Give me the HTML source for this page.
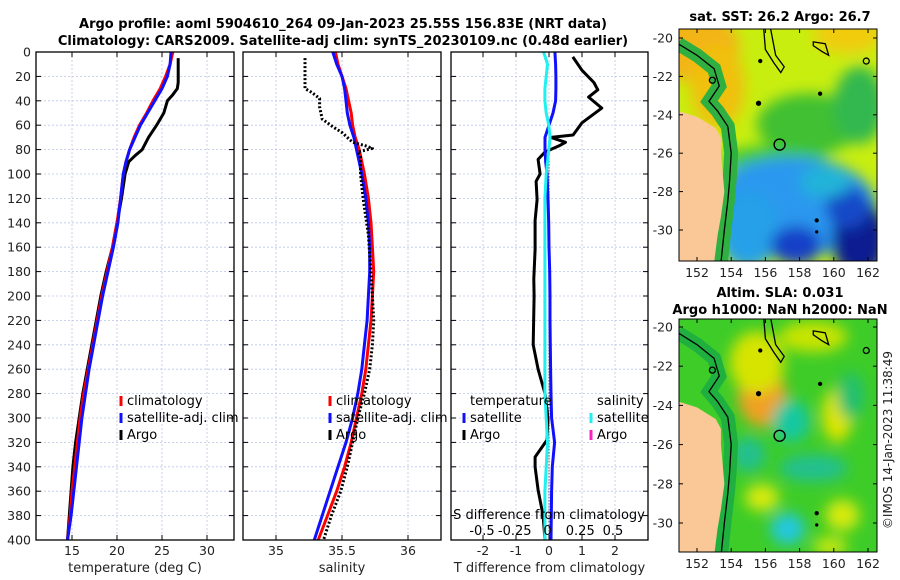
<!DOCTYPE html>
<html><head><meta charset="utf-8">
<style>
html,body{margin:0;padding:0;background:#fff;}
svg{display:block;font-family:"DejaVu Sans","Liberation Sans",sans-serif;}
</style></head>
<body>
<svg id="fig" width="900" height="580" viewBox="0 0 900 580" xmlns="http://www.w3.org/2000/svg">
<defs>
<filter id="bl" x="-50%" y="-50%" width="200%" height="200%"><feGaussianBlur stdDeviation="7"/></filter>
<filter id="bl2" x="-50%" y="-50%" width="200%" height="200%"><feGaussianBlur stdDeviation="4"/></filter>
<clipPath id="clipTop"><rect x="679" y="29" width="198" height="232"/></clipPath>
<clipPath id="clipBot"><rect x="679" y="319" width="198" height="233"/></clipPath>
</defs>
<text x="343" y="28" text-anchor="middle" font-size="13" font-weight="bold">Argo profile: aoml 5904610_264 09-Jan-2023 25.55S 156.83E (NRT data)</text>
<text x="343" y="45" text-anchor="middle" font-size="13" font-weight="bold">Climatology: CARS2009. Satellite-adj clim: synTS_20230109.nc (0.48d earlier)</text>
<g id="plots"></g>
<g id="maps"></g>
<text transform="translate(892,440) rotate(-90)" text-anchor="middle" font-size="12" fill="#222">©IMOS 14-Jan-2023 11:38:49</text>
</svg>
<script>
// ---------- data ----------
const depthTicks = [0,20,40,60,80,100,120,140,160,180,200,220,240,260,280,300,320,340,360,380,400];
const tTicks = [15,20,25,30];
const sTicks = [35,35.5,36];
const sTickLabels = ['35','35.5','36'];
const dTicks = [-2,-1,0,1,2];
const sdTicks = [-0.5,-0.25,0,0.25,0.5];
const sdTickLabels = ['-0.5','-0.25','0','0.25','0.5'];

const climDepth = [0,10,20,30,40,50,60,70,80,90,100,120,140,160,180,200,220,240,260,280,300,320,340,360,380,400];
const tClim =    [26.2,25.9,25.4,24.8,24.0,23.3,22.5,21.9,21.4,21.0,20.7,20.4,20.0,19.5,18.9,18.3,17.8,17.3,16.8,16.3,15.9,15.6,15.3,15.0,14.8,14.5];
const tSat =     [26.0,25.9,25.6,25.0,24.2,23.4,22.6,22.0,21.4,21.0,20.7,20.4,20.1,19.6,19.0,18.4,17.9,17.4,16.9,16.5,16.1,15.8,15.5,15.2,14.9,14.5];
const sClim =    [35.45,35.47,35.5,35.53,35.55,35.57,35.58,35.6,35.63,35.65,35.67,35.70,35.72,35.73,35.74,35.73,35.72,35.70,35.68,35.65,35.61,35.57,35.52,35.46,35.39,35.32];
const sSat =     [35.43,35.46,35.5,35.52,35.53,35.54,35.56,35.59,35.61,35.63,35.65,35.68,35.70,35.71,35.71,35.70,35.69,35.67,35.65,35.62,35.58,35.53,35.47,35.41,35.35,35.29];
const dtSat =    [0.18,0.2,0.21,0.21,0.2,0.12,0.0,-0.12,-0.12,-0.1,-0.06,-0.03,-0.01,0.0,0.02,0.03,0.03,0.04,0.05,0.06,0.08,0.17,0.1,0.08,0.07,0.06];
const dsSat =    [-0.03,0.0,-0.01,-0.02,-0.02,-0.01,0.01,0.02,0.01,0.0,-0.01,-0.02,-0.02,-0.02,-0.02,-0.02,-0.02,-0.02,-0.02,-0.02,-0.01,0.0,-0.01,-0.02,-0.02,-0.02];

const argoDepth = [5,15,25,30,35,40,50,60,70,80,85,90,100,110,120,140,160,180,200,220,240,260,280,300,320,340,360,380,400];
const tArgo =     [26.8,26.8,26.8,26.7,26.2,25.6,25.2,24.4,23.5,22.8,22.0,21.3,20.9,20.7,20.5,20.0,19.5,18.8,18.2,17.7,17.2,16.7,16.2,15.8,15.4,15.1,14.9,14.7,14.5];
const argoSDepth = [5,15,25,30,33,38,45,55,62,66,70,74,77,79,82,86,90,100,120,150,200,220,240,260,280,300,320,340,360,380,400];
const sArgo =      [35.22,35.22,35.22,35.22,35.27,35.33,35.33,35.35,35.44,35.5,35.54,35.58,35.68,35.73,35.62,35.64,35.64,35.64,35.66,35.70,35.73,35.74,35.73,35.71,35.67,35.62,35.58,35.54,35.49,35.42,35.36];
const dtDepth =  [4,15,25,31,37,46,58,68,70,74,77,82,88,100,106,121,138,162,186,200,240,260,280,300,318,332,340,359,380,400];
const dtArgo =   [0.72,1.0,1.36,1.48,1.2,1.6,1.0,0.73,0.06,0.5,0.3,-0.12,-0.33,-0.27,-0.39,-0.36,-0.42,-0.42,-0.46,-0.45,-0.48,-0.33,-0.12,-0.03,-0.06,-0.42,-0.42,-0.33,-0.18,-0.12];

// ---------- helpers ----------
const NS='http://www.w3.org/2000/svg';
function mk(tag, attrs, parent){const e=document.createElementNS(NS,tag);for(const k in attrs)e.setAttribute(k,attrs[k]);(parent||document.getElementById('plots')).appendChild(e);return e;}
const Y0=52, Y1=540;
const yD = d => Y0 + d*(Y1-Y0)/400;
function linScale(v0,p0,v1,p1){return v=>p0+(v-v0)*(p1-p0)/(v1-v0);}

const panels = [
 {name:'temperature', x0:36, x1:234, sx:linScale(15,72,30,207), ticks:tTicks, labels:tTicks.map(String), xlabel:'temperature (deg C)'},
 {name:'salinity', x0:243, x1:441, sx:linScale(35,276,36,408), ticks:sTicks, labels:sTickLabels, xlabel:'salinity'},
 {name:'difference', x0:451, x1:648, sx:linScale(-2,483,2,615), ticks:dTicks, labels:dTicks.map(String), xlabel:'T difference from climatology'}
];
const sdScale = linScale(-0.5,482,0.5,613);

panels.forEach((p,i)=>{
  const g = mk('g',{});
  
  
  // grid
  depthTicks.forEach(d=>{
    const l=mk('line',{x1:p.x0,x2:p.x1,y1:yD(d),y2:yD(d),stroke:'#b9c6ec','stroke-width':0.8,'stroke-dasharray':'2,2'},g);
    
    
    const t1=mk('line',{x1:p.x0,x2:p.x0+5,y1:yD(d),y2:yD(d),stroke:'#000'},g);
    const t2=mk('line',{x1:p.x1-5,x2:p.x1,y1:yD(d),y2:yD(d),stroke:'#000'},g);
    if(i===0){
      const tl=mk('text',{x:p.x0-5,y:yD(d)+4.5,'text-anchor':'end','font-size':12.5,fill:'#222'},g);
      tl.textContent=d;
      
      
    }
  });
  p.ticks.forEach((v,j)=>{
    const x=p.sx(v);
    const l=mk('line',{x1:x,x2:x,y1:Y0,y2:Y1,stroke:'#c9bfe0','stroke-width':0.8,'stroke-dasharray':'2,2'},g);
    
    
    mk('line',{x1:x,x2:x,y1:Y1,y2:Y1-5,stroke:'#000'},g);
    mk('line',{x1:x,x2:x,y1:Y0,y2:Y0+5,stroke:'#000'},g);
    const tl=mk('text',{x:x,y:555,'text-anchor':'middle','font-size':12.5,fill:'#222'},g);
    tl.textContent=p.labels[j];
    
    
  });
  const xl=mk('text',{x:(p.x0+p.x1)/2,y:572,'text-anchor':'middle','font-size':13,fill:'#222'},g);
  xl.textContent=p.xlabel;
  
  
});

function series(xs, ds, sx, color, w, name, dash){
  const pts = xs.map((v,k)=>sx(v).toFixed(1)+','+yD(ds[k]).toFixed(1)).join(' ');
  const a={points:pts,fill:'none',stroke:color,'stroke-width':w,'stroke-linejoin':'round'};
  if(dash) a['stroke-dasharray']=dash;
  const e=mk('polyline',a);
  
  
}
const P=panels;
series(tArgo, argoDepth, P[0].sx, '#000', 3, 'argo-temperature-line');
series(tClim, climDepth, P[0].sx, '#f00', 3, 'climatology-temperature-line');
series(tSat, climDepth, P[0].sx, '#1010ff', 3, 'satellite-temperature-line');
series(sClim, climDepth, P[1].sx, '#f00', 3, 'climatology-salinity-line');
series(sSat, climDepth, P[1].sx, '#1010ff', 3, 'satellite-salinity-line');
series(sArgo, argoSDepth, P[1].sx, '#000', 3, 'argo-salinity-line', '2,2');
// zero reference dotted
const z=mk('line',{x1:549,x2:549,y1:yD(70),y2:Y1,stroke:'#333','stroke-width':1.2,'stroke-dasharray':'1,2'});


series(dtArgo, dtDepth, P[2].sx, '#000', 3, 'argo-temperature-difference-line');
series(dtSat, climDepth, P[2].sx, '#1010ff', 3, 'satellite-temperature-difference-line');
series(dsSat, climDepth, sdScale, '#20f0f0', 3, 'satellite-salinity-difference-line');

// frames
panels.forEach(p=>{
  const r=mk('rect',{x:p.x0,y:Y0,width:p.x1-p.x0,height:Y1-Y0,fill:'none',stroke:'#000','stroke-width':1.3});
  
  
});

// legends
function legend(x,y,color,label,name){
  const g=mk('g',{});
  
  
  if(color) mk('line',{x1:x,x2:x,y1:y-9,y2:y+1,stroke:color,'stroke-width':3},g);
  const t=mk('text',{x:x+6,y:y,'font-size':13,fill:'#000'},g);
  t.textContent=label;
}
legend(121,405,'#f00','climatology','legend-entry-climatology');
legend(121,422,'#1010ff','satellite-adj. clim','legend-entry-satellite');
legend(121,439,'#000','Argo','legend-entry-argo');
legend(330,405,'#f00','climatology','legend-entry-climatology-salinity');
legend(330,422,'#1010ff','satellite-adj. clim','legend-entry-satellite-salinity');
legend(330,439,'#000','Argo','legend-entry-argo-salinity');
legend(464,405,null,'temperature','legend-header-temperature');
legend(464,422,'#1010ff','satellite','legend-entry-temperature-satellite');
legend(464,439,'#000','Argo','legend-entry-temperature-argo');
legend(591,405,null,'salinity','legend-header-salinity');
legend(591,422,'#20f0f0','satellite','legend-entry-salinity-satellite');
legend(591,439,'#ff20c0','Argo','legend-entry-salinity-argo');
{
  const t=mk('text',{x:549,y:519,'text-anchor':'middle','font-size':13,fill:'#000'});
  t.textContent='S difference from climatology';
  
  
  sdTicks.forEach((v,j)=>{
    const l=mk('text',{x:sdScale(v),y:535,'text-anchor':'middle','font-size':13,fill:'#000'});
    l.textContent=sdTickLabels[j];
    
    
  });
}

// ---------- maps ----------
const M=document.getElementById('maps');
const lonTicks=[152,154,156,158,160,162];
const latTicks=[-20,-22,-24,-26,-28,-30];
const px = lon => 697 + (lon-152)*17.1;
const landPoly=[[150.9,-23.8],[152,-24.1],[153.1,-24.7],[153.4,-25.2],[153.4,-26],[153.5,-27],[153.6,-28],[153.4,-29.3],[153.2,-30.3],[153.0,-31.7],[150.9,-31.7]];
const coastLine=[[150.9,-20.3],[152,-20.9],[153,-21.6],[153.3,-22.5],[152.7,-23.3],[153.2,-23.8],[153.8,-24.6],[154.0,-26],[153.9,-27.5],[153.8,-28.5],[153.6,-30],[153.4,-31.7]];
const reefLine=[[155.9,-19.5],[156.0,-20.6],[156.5,-21.3],[156.9,-21.8],[157.1,-21.5],[156.6,-20.9],[156.3,-19.5]];
const reef2=[[158.8,-20.2],[159.5,-20.3],[159.7,-20.9],[159.3,-20.7],[158.8,-20.4]];

function drawMap(cfg){
  const g=mk('g',{},M);
  
  
  const py = lat => cfg.y20 + (-20-lat)*cfg.k;
  const c=mk('g',{'clip-path':'url(#'+cfg.clip+')'},g);
  mk('rect',{x:679,y:cfg.top,width:198,height:cfg.h,fill:cfg.base},c);
  const b=mk('g',{filter:'url(#bl)'},c);
  cfg.blobs.forEach(o=>mk('ellipse',{cx:px(o[0]),cy:py(o[1]),rx:o[2]*17.1,ry:o[3]*19.4,fill:o[4]},b));
  const shelf=mk('polyline',{points:coastLine.map(q=>px(q[0])+','+py(q[1])).join(' '),fill:'none',stroke:cfg.shelf,'stroke-width':14},c);
  mk('polygon',{points:landPoly.map(q=>px(q[0])+','+py(q[1])).join(' '),fill:'#f9c896'},c);
  mk('polyline',{points:coastLine.map(q=>px(q[0])+','+py(q[1])).join(' '),fill:'none',stroke:'#000','stroke-width':1.3},c);
  mk('polyline',{points:reefLine.map(q=>px(q[0])+','+py(q[1])).join(' '),fill:'none',stroke:'#000','stroke-width':1.3},c);
  mk('polygon',{points:reef2.map(q=>px(q[0])+','+py(q[1])).join(' '),fill:'none',stroke:'#000','stroke-width':1.3},c);
  [[152.9,-22.2,3],[155.7,-21.2,1.5],[155.6,-23.4,2],[159.2,-22.9,1.5],[159.0,-29.5,1.5],[159.0,-30.1,1],[161.9,-21.2,3]].forEach(q=>mk('circle',{cx:px(q[0]),cy:py(q[1]),r:q[2],fill:q[2]>2.5?'none':'#000',stroke:'#000','stroke-width':1.3},c));
  const loc=mk('circle',{cx:px(156.83),cy:py(-25.55),r:5.5,fill:'none',stroke:'#000','stroke-width':1.4},g);
  
  
  mk('rect',{x:679,y:cfg.top,width:198,height:cfg.h,fill:'none',stroke:'#000','stroke-width':1},g);
  latTicks.forEach(l=>{
    const y=py(l);
    mk('line',{x1:679,x2:683,y1:y,y2:y,stroke:'#000'},g);
    mk('line',{x1:873,x2:877,y1:y,y2:y,stroke:'#000'},g);
    const t=mk('text',{x:673,y:y+4.5,'text-anchor':'end','font-size':12.5,fill:'#222'},g);
    t.textContent=l;
  });
  lonTicks.forEach(l=>{
    const x=px(l);
    mk('line',{x1:x,x2:x,y1:cfg.top+cfg.h,y2:cfg.top+cfg.h-4,stroke:'#000'},g);
    mk('line',{x1:x,x2:x,y1:cfg.top,y2:cfg.top+4,stroke:'#000'},g);
    const t=mk('text',{x:x,y:cfg.top+cfg.h+16,'text-anchor':'middle','font-size':12.5,fill:'#222'},g);
    t.textContent=l;
  });
  cfg.titles.forEach((s,j)=>{
    const t=mk('text',{x:780,y:cfg.titleY+j*17,'text-anchor':'middle','font-size':13,'font-weight':'bold'},g);
    t.textContent=s;
  });
}
drawMap({name:'sst-map',clip:'clipTop',top:29,h:232,y20:38,k:19.2,base:'#c8ee10',shelf:'#30b040',
  titles:['sat. SST: 26.2 Argo: 26.7'],titleY:21,
  blobs:[[152,-20.5,2.5,1.8,'#f3b418'],[153.2,-22.5,1.6,2.2,'#f0c010'],[160.8,-19.8,2,1,'#f0cc10'],
    [158.5,-24.5,3,1.6,'#40c030'],[161.5,-23.5,1.5,2,'#30b850'],[156.5,-26.3,3,0.7,'#40c830'],
    [157.5,-28.8,5,2.6,'#2a98ee'],[155,-30,1.8,2,'#25a0e8'],[161.5,-30.5,1.6,2,'#0a1a90'],[160.8,-28.8,1.3,1.1,'#1848c8'],[157.8,-30.8,1.5,1,'#1540c8'],[159.5,-27.5,1.5,0.8,'#22b4d8']]});
drawMap({name:'sla-map',clip:'clipBot',top:319,h:233,y20:327,k:19.6,base:'#3ecc28',shelf:'#20b040',
  titles:['Altim. SLA: 0.031','Argo h1000: NaN h2000: NaN'],titleY:297,
  blobs:[[155.8,-23.5,1.4,1.6,'#f0a020'],[155.5,-21.8,1.6,1.6,'#d6e400'],[158.8,-20.5,2,0.8,'#c8e400'],[160.2,-24.5,0.9,1.4,'#dce400'],
    [157.5,-24.8,1.1,1.1,'#18c8a0'],[161,-23.5,0.8,1.2,'#20c070'],[155,-26.5,1,0.9,'#20c090'],[158.8,-27.2,2,0.7,'#20c090'],
    [155.8,-28.7,1,0.7,'#d8ea10'],[160.5,-29.6,1,0.8,'#d8ea10'],[159.8,-31.2,1,0.5,'#c8e810'],[157.3,-30.3,1,0.8,'#20c8e0']]});
</script>
</body></html>
